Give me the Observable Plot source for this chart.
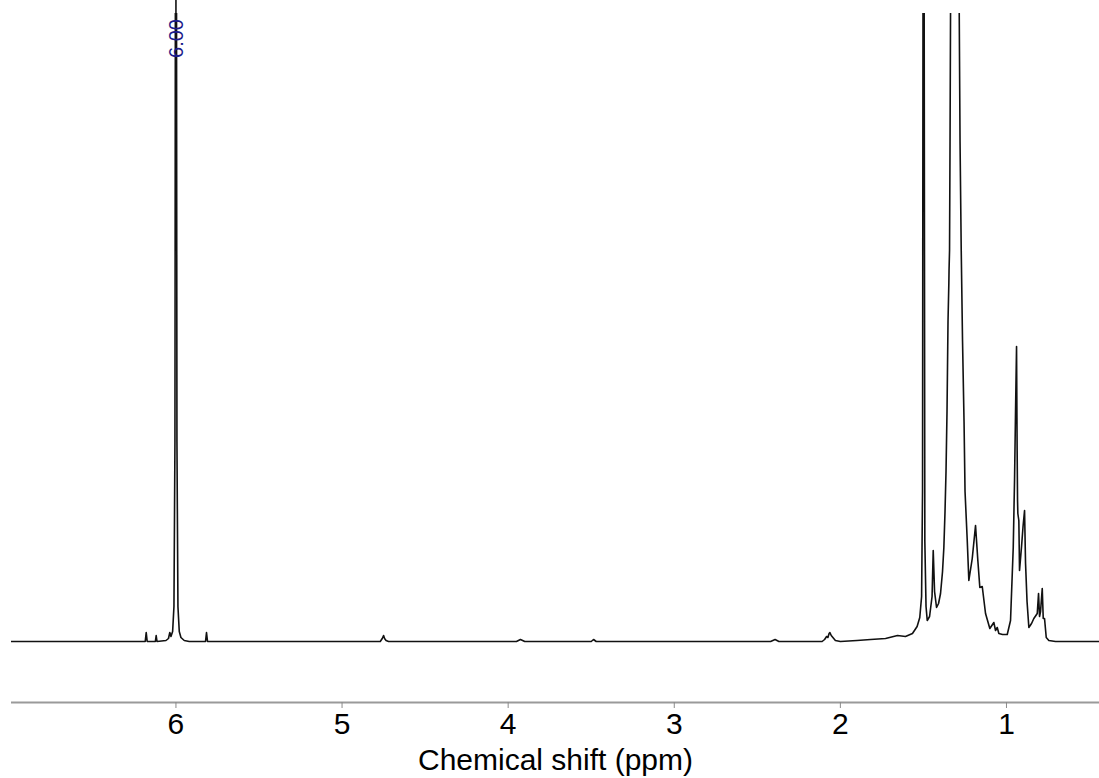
<!DOCTYPE html>
<html><head><meta charset="utf-8">
<script src="https://cdn.jsdelivr.net/npm/d3@7"></script>
<script src="https://cdn.jsdelivr.net/npm/@observablehq/plot@0.6"></script>
<style>body{margin:0;background:#fff}#chart svg{display:block}</style>
</head><body><div id="chart"></div>
<script>
// Chemical shift (ppm) of each point
const ppm = [6.99,6.60,6.30,6.185,6.179,6.173,6.124,6.119,6.114,6.06,6.045,6.037,6.030,6.020,6.012,6.006,6.002,6.000,5.998,5.994,5.988,5.980,5.970,5.950,5.920,5.822,5.816,5.810,5.50,5.00,4.770,4.758,4.750,4.744,4.735,4.720,4.20,3.950,3.926,3.900,3.500,3.486,3.470,2.80,2.420,2.393,2.370,2.200,2.110,2.095,2.083,2.075,2.068,2.063,2.055,2.045,2.030,2.000,1.900,1.818,1.728,1.656,1.608,1.566,1.538,1.522,1.511,1.5054,1.501,1.4975,1.4915,1.4843,1.477,1.463,1.448,1.441,1.433,1.421,1.409,1.397,1.385,1.377,1.370,1.364,1.358,1.352,1.347,1.3458,1.3428,1.3398,1.3368,1.3338,1.3097,1.2886,1.2844,1.2796,1.2724,1.2645,1.2555,1.2495,1.2362,1.2266,1.2061,1.1863,1.1724,1.1604,1.1459,1.1261,1.1002,1.0761,1.0659,1.0556,1.0460,1.0237,0.9954,0.9756,0.9593,0.9515,0.9455,0.9394,0.9370,0.9358,0.9334,0.9316,0.9256,0.9214,0.9093,0.9003,0.8912,0.8852,0.8762,0.8653,0.8491,0.8353,0.8148,0.8070,0.8010,0.7949,0.7847,0.7787,0.7709,0.7606,0.7450,0.7046,0.44];
// Intensity (arbitrary units) at each point
const intensity = [0,0,0,0,9,0,0,6,0,1,3,9,5,10,35,200,900,1500,900,200,35,10,4,1,0,0,9,0,0,0,0,3,6,3,1,0,0,0,2,0,0,2,0,0,0,2,0,0,0,2,5,4,8,9,6,4,1,0,1,2,3,6,5,8,15,24,45,150,900,900,100,35,21,25,45,91,50,34,38,48,70,94,130,170,230,320,358,371,391,500,628,800,1400,800,628,500,391,300,220,150,101,61,83,116,81,54,55,28,13,19,11,14,8,7,7,21,94,161,230,295,224,191,141,128,121,71,95,115,131,78,40,14,18,23,28,48,25,30,53,23,23,4,1,0,0];
const tickValues = [6,5,4,3,2,1];
const integralPpm = [6.00];
const integralText = ["6.00"];
const axisTitle = "Chemical shift (ppm)";

const spectrum = ppm.map((p, i) => ({ppm: p, intensity: intensity[i]}));
const integrals = integralPpm.map((p, i) => ({ppm: p, text: integralText[i]}));

const yDomain = [-61, 628];

const chart = Plot.plot({
  width: 1099,
  height: 778,
  marginTop: 13,
  marginBottom: 76,
  marginLeft: 11,
  marginRight: 0,
  style: {fontFamily: "'Liberation Sans', Arial, sans-serif", background: "#fff"},
  x: {domain: [6.99, 0.44], axis: null},
  y: {domain: yDomain, axis: null},
  marks: [
    Plot.ruleY([yDomain[0]], {stroke: "#9a9a9a", strokeWidth: 2}),
    Plot.axisX({ticks: tickValues, tickSize: 6, tickPadding: 4, fontSize: 30, stroke: "#8a8a8a", fill: "#000", label: null, tickFormat: d => String(d)}),
    Plot.line(spectrum, {x: "ppm", y: "intensity", stroke: "#111", strokeWidth: 1.6, clip: true}),
    Plot.ruleX(integrals, {x: "ppm", y1: yDomain[1], y2: yDomain[1] + 13, stroke: "#111", strokeWidth: 1.6}),
    Plot.text(integrals, {x: "ppm", text: "text", frameAnchor: "top", dy: 25, dx: -7, rotate: -90, fontSize: 20, fill: "#1c1c8c"}),
    Plot.text([axisTitle], {frameAnchor: "bottom", dy: 67, fontSize: 30, fill: "#000"})
  ]
});
document.getElementById("chart").appendChild(chart);
</script>
</body></html>
